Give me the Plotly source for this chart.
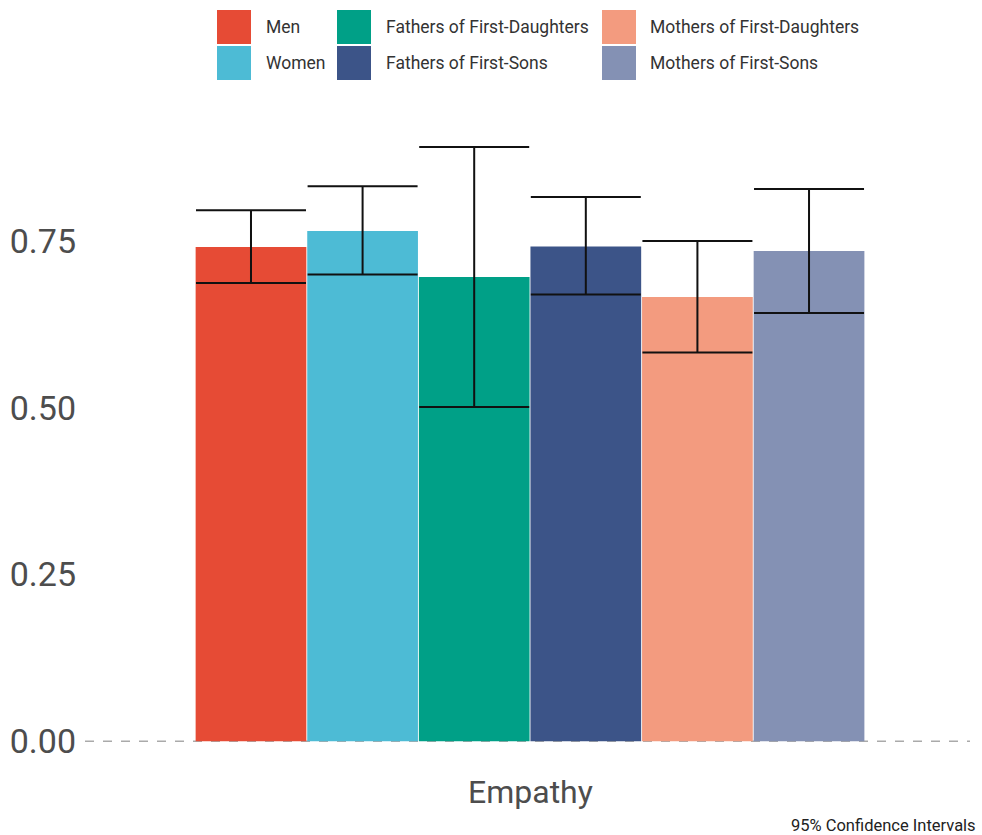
import plotly.graph_objects as go

# Group means with 95% confidence bounds for the Empathy measure
groups = ["Men", "Women", "Fathers of First-Daughters", "Fathers of First-Sons",
          "Mothers of First-Daughters", "Mothers of First-Sons"]
means = [0.741, 0.765, 0.696, 0.742, 0.666, 0.735]
upper = [0.796, 0.832, 0.891, 0.816, 0.750, 0.828]
lower = [0.687, 0.700, 0.501, 0.670, 0.583, 0.642]
colors = ["#E64B35", "#4DBBD5", "#00A087", "#3C5488", "#F39B7F", "#8491B4"]
category = "Empathy"

FONT = "Roboto"
TEXT = "#4d4d4d"

W, H = 982, 835
L, R, T, B = 85, 12, 117, 64
PW, PH = W - L - R, H - T - B


def px(x):
    """Page pixel x -> paper fraction of the plot area."""
    return (x - L) / PW


def py(y):
    """Page pixel y (from top) -> paper fraction of the plot area."""
    return (H - B - y) / PH


fig = go.Figure()
for g, m, hi, lo, c in zip(groups, means, upper, lower, colors):
    fig.add_trace(go.Bar(
        x=[category], y=[m], name=g, showlegend=False,
        marker=dict(color=c, line=dict(width=0)),
        error_y=dict(type="data", symmetric=False,
                     array=[hi - m], arrayminus=[m - lo],
                     color="#111111", thickness=2, width=55),
    ))

# dashed baseline at zero
fig.add_shape(type="line", xref="paper", yref="y", x0=0, x1=1, y0=0, y1=0,
              line=dict(color="#aaaaaa", width=1.5, dash="dash"), layer="below")

# legend: two rows by three columns of swatches
legend_cols_x = [217, 337, 602]
legend_text_x = [264, 384, 648]
legend_rows_y = [10, 46]
for i, (g, c) in enumerate(zip(groups, colors)):
    col, row = i // 2, i % 2
    x0 = legend_cols_x[col]
    y0 = legend_rows_y[row]
    fig.add_shape(type="rect", xref="paper", yref="paper",
                  x0=px(x0), x1=px(x0 + 34), y0=py(y0 + 34), y1=py(y0),
                  fillcolor=c, line=dict(width=0))
    fig.add_annotation(xref="paper", yref="paper",
                       x=px(legend_text_x[col]), y=py(y0 + 17),
                       text=g, showarrow=False, xanchor="left", yanchor="middle",
                       font=dict(family=FONT, size=17.5, color="#333333"))

# category label under the bars
fig.add_annotation(xref="paper", yref="paper", x=px(530), y=py(792),
                   text=category, showarrow=False, xanchor="center",
                   yanchor="middle", font=dict(family=FONT, size=32, color=TEXT))

fig.add_annotation(xref="paper", yref="paper", x=px(978), y=py(825),
                   text="95% Confidence Intervals", showarrow=False,
                   xanchor="right", yanchor="middle",
                   font=dict(family=FONT, size=16.5, color="#222222"))

ylo, yhi = -0.0446, 0.936
fig.update_layout(
    width=W, height=H,
    margin=dict(l=L, r=R, t=T, b=B, pad=0, autoexpand=False),
    paper_bgcolor="white", plot_bgcolor="white",
    barmode="group", bargap=0.092, bargroupgap=0.008,
    font=dict(family=FONT, color=TEXT),
    xaxis=dict(range=[-0.6034, 0.5966], showgrid=False, zeroline=False,
               showline=False, ticks="", showticklabels=False,
               automargin=False),
    yaxis=dict(range=[ylo, yhi], tickvals=[0, 0.25, 0.5, 0.75],
               tickformat=".2f", showgrid=False, zeroline=False,
               showline=False, ticks="", tickfont=dict(size=34, color=TEXT),
               ticklabelstandoff=8, automargin=False),
)

fig.write_html("out.html")
